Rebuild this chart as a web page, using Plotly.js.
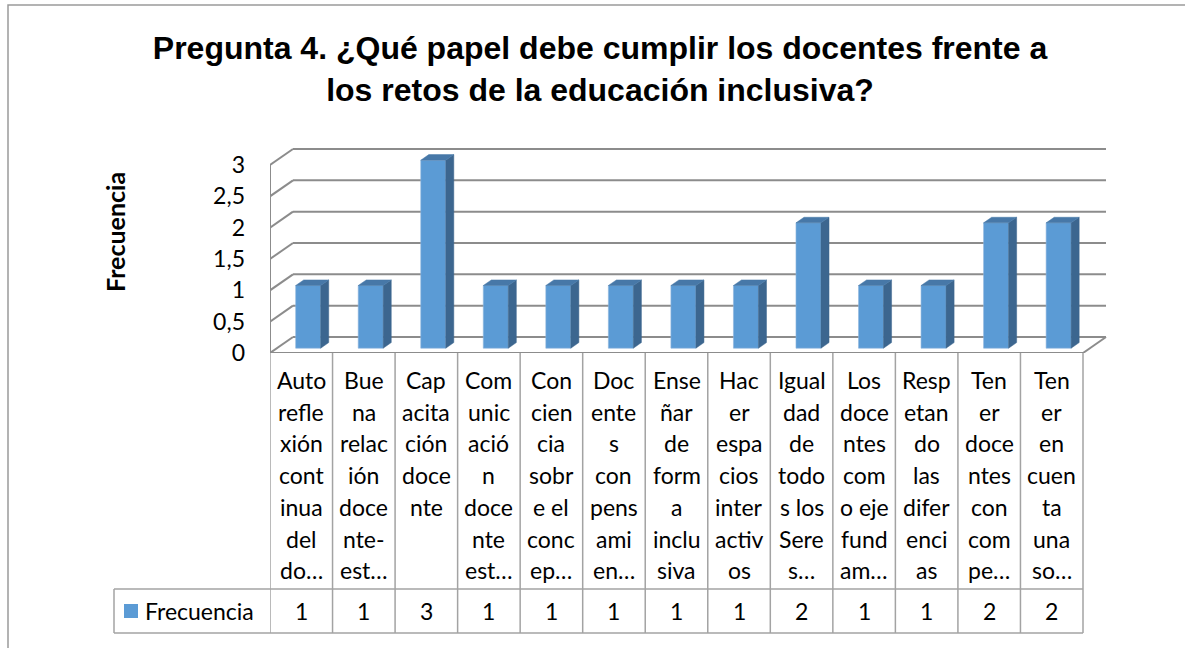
<!DOCTYPE html>
<html>
<head>
<meta charset="utf-8">
<script src="https://cdn.plot.ly/plotly-3.0.1.min.js"></script>
<style>html,body{margin:0;padding:0;background:#fff;}#chart{width:1185px;height:648px;}</style>
</head>
<body>
<div id="chart"></div>
<script>
// ---- data ----
const labelLines = [
  ['Auto','refle','xión','cont','inua','del','do…'],
  ['Bue','na','relac','ión','doce','nte-','est…'],
  ['Cap','acita','ción','doce','nte'],
  ['Com','unic','ació','n','doce','nte','est…'],
  ['Con','cien','cia','sobr','e el','conc','ep…'],
  ['Doc','ente','s','con','pens','ami','en…'],
  ['Ense','ñar','de','form','a','inclu','siva'],
  ['Hac','er','espa','cios','inter','activ','os'],
  ['Igual','dad','de','todo','s los','Sere','s…'],
  ['Los','doce','ntes','com','o eje','fund','am…'],
  ['Resp','etan','do','las','difer','enci','as'],
  ['Ten','er','doce','ntes','con','com','pe…'],
  ['Ten','er','en','cuen','ta','una','so…']
];
const frecuencia = [1,1,3,1,1,1,1,1,2,1,1,2,2];
const seriesName = 'Frecuencia';
const valueTicks = [0,0.5,1,1.5,2,2.5,3];
const tickLabels = ['0','0,5','1','1,5','2','2,5','3'];
const titleText = 'Pregunta 4. ¿Qué papel debe cumplir los docentes frente a<br>los retos de la educación inclusiva?';
const yTitle = 'Frecuencia';

// ---- geometry / style ----
const W = 1185, H = 648;
const L = 270, R = 75, T = 140, B = 295;
const plotW = W - L - R, plotH = H - T - B;
const n = frecuencia.length;
const colPx = 813 / n;           // px per category
const unitPx = 62.67;            // px per value unit
const xMax = plotW / colPx;
const yMax = plotH / unitPx;
const dX = 23 / colPx, dY = 16 / unitPx;   // depth of the 3D box
const f = 0.3, s = 0.35;                   // bar front position and depth
const bw = 25 / colPx;
const gridColor = '#8c8c8c', tableColor = '#a3a3a3';
const cFront = '#5b9bd5', cSide = '#3c668f', cTop = '#4778a8';
const txtFont = {family: 'Lato, "Open Sans", sans-serif', size: 23, color: '#000'};

const px2x = p => (p - L) / plotW;
const py2y = p => (H - B - p) / plotH;

// ---- bars ----
const cx = frecuencia.map((v, i) => i + 0.5 + f * dX);
const base = f * dY;
const sideX = [], sideY = [], topX = [], topY = [];
frecuencia.forEach((v, i) => {
  const xl = cx[i] - bw / 2, xr = cx[i] + bw / 2;
  const yt = base + v;
  sideX.push(xr, xr + s * dX, xr + s * dX, xr, xr, null);
  sideY.push(base, base + s * dY, yt + s * dY, yt, base, null);
  topX.push(xl, xl + s * dX, xr + s * dX, xr, xl, null);
  topY.push(yt, yt + s * dY, yt + s * dY, yt, yt, null);
});

const traces = [
  {type: 'bar', name: seriesName, x: cx, y: frecuencia, base: base, width: bw,
   marker: {color: cFront, line: {color: '#8fb6de', width: 0.6}}, hoverinfo: 'y', showlegend: false},
  {type: 'scatter', mode: 'lines', x: sideX, y: sideY, fill: 'toself', fillcolor: cSide,
   line: {color: cSide, width: 0.5}, hoverinfo: 'skip', showlegend: false},
  {type: 'scatter', mode: 'lines', x: topX, y: topY, fill: 'toself', fillcolor: cTop,
   line: {color: cTop, width: 0.5}, hoverinfo: 'skip', showlegend: false}
];

// ---- 3D frame (walls, floor) ----
const shapes = [];
valueTicks.forEach(v => {
  shapes.push({type: 'line', xref: 'x', yref: 'y', layer: 'below', x0: dX, y0: v + dY, x1: n + dX, y1: v + dY, line: {color: gridColor, width: 2}});
  shapes.push({type: 'line', xref: 'x', yref: 'y', layer: 'below', x0: 0, y0: v, x1: dX, y1: v + dY, line: {color: gridColor, width: 2}});
});
const yTop = valueTicks[valueTicks.length - 1];
shapes.push({type: 'line', xref: 'x', yref: 'y', layer: 'below', x0: 0, y0: 0, x1: 0, y1: yTop, line: {color: gridColor, width: 2}});
shapes.push({type: 'line', xref: 'x', yref: 'y', layer: 'below', x0: 0, y0: 0, x1: n, y1: 0, line: {color: gridColor, width: 2}});
shapes.push({type: 'line', xref: 'x', yref: 'y', layer: 'below', x0: n, y0: 0, x1: n + dX, y1: dY, line: {color: gridColor, width: 2}});

// ---- data table ----
const rowTop = 589, rowBot = 633, legLeft = 114;
for (let i = 0; i <= n; i++) {
  shapes.push({type: 'line', xref: 'x', yref: 'paper', x0: i, x1: i, y0: py2y(H - B), y1: py2y(rowBot), line: {color: tableColor, width: 1.5}});
}
shapes.push({type: 'line', xref: 'paper', yref: 'paper', x0: px2x(legLeft), x1: px2x(legLeft), y0: py2y(rowTop), y1: py2y(rowBot), line: {color: tableColor, width: 1.5}});
shapes.push({type: 'line', xref: 'paper', yref: 'paper', x0: px2x(legLeft), x1: px2x(L + 813), y0: py2y(rowTop), y1: py2y(rowTop), line: {color: tableColor, width: 1.5}});
shapes.push({type: 'line', xref: 'paper', yref: 'paper', x0: px2x(legLeft), x1: px2x(L + 813), y0: py2y(rowBot), y1: py2y(rowBot), line: {color: tableColor, width: 1.5}});
// legend key
shapes.push({type: 'rect', xref: 'paper', yref: 'paper', x0: px2x(124), x1: px2x(138), y0: py2y(604), y1: py2y(618), fillcolor: cFront, line: {width: 0}});
// outer chart frame
shapes.push({type: 'rect', xref: 'paper', yref: 'paper', x0: px2x(8), x1: px2x(1200), y0: py2y(5), y1: py2y(665), line: {color: '#9a9a9a', width: 1.5}, fillcolor: 'rgba(0,0,0,0)'});

const annotations = [];
const lineH = 31.7, firstLine = 380;
labelLines.forEach((lines, i) => {
  lines.forEach((t, k) => {
    annotations.push({xref: 'x', yref: 'paper', x: i + 0.5, y: py2y(firstLine + k * lineH), text: t, showarrow: false, xanchor: 'center', yanchor: 'middle', font: txtFont});
  });
  annotations.push({xref: 'x', yref: 'paper', x: i + 0.5, y: py2y((rowTop + rowBot) / 2), text: String(frecuencia[i]), showarrow: false, xanchor: 'center', yanchor: 'middle', font: txtFont});
});
annotations.push({xref: 'paper', yref: 'paper', x: px2x(143), y: py2y((rowTop + rowBot) / 2), text: seriesName, showarrow: false, xanchor: 'left', yanchor: 'middle', font: txtFont});
annotations.push({xref: 'paper', yref: 'paper', x: px2x(115), y: py2y(232), text: yTitle, textangle: -90, showarrow: false, xanchor: 'center', yanchor: 'middle', font: {family: 'Lato, sans-serif', size: 25, color: '#000', weight: 'bold'}});

const layout = {
  width: W, height: H,
  margin: {l: L, r: R, t: T, b: B, pad: 0},
  paper_bgcolor: '#fff', plot_bgcolor: 'rgba(0,0,0,0)',
  title: {text: titleText, x: 600 / W, xanchor: 'center', y: 1 - 59 / H, yanchor: 'top',
          font: {family: '"Liberation Sans", Arial, sans-serif', size: 32, color: '#000', weight: 'bold'}},
  xaxis: {range: [0, xMax], showgrid: false, zeroline: false, showline: false, showticklabels: false, ticks: '', fixedrange: true},
  yaxis: {range: [0, yMax], showgrid: false, zeroline: false, showline: false, ticks: '',
          tickvals: valueTicks, ticktext: tickLabels, ticklabelstandoff: 24, tickfont: txtFont, fixedrange: true},
  shapes: shapes, annotations: annotations, showlegend: false, bargap: 0
};

Plotly.newPlot('chart', traces, layout, {displayModeBar: false, staticPlot: true});
</script>
</body>
</html>
